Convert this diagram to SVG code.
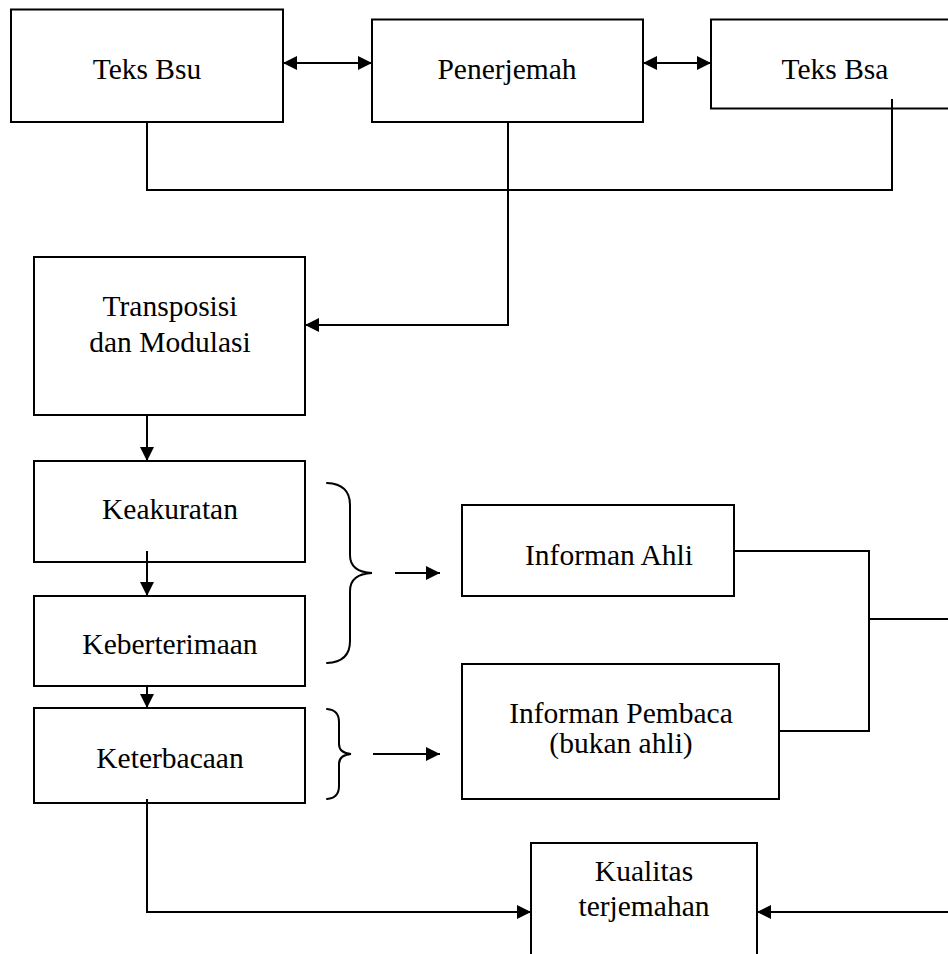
<svg xmlns="http://www.w3.org/2000/svg" width="948" height="954" viewBox="0 0 948 954">
  <defs>
    <marker id="arrow" viewBox="0 0 14 14" refX="14" refY="7" markerWidth="14" markerHeight="14" markerUnits="userSpaceOnUse" orient="auto-start-reverse">
      <path d="M0,0 L14,7 L0,14 Z" fill="#000"/>
    </marker>
    <style>
      .box { fill: #fff; stroke: #000; stroke-width: 2; }
      .edge { fill: none; stroke: #000; stroke-width: 2; }
      .brace { fill: none; stroke: #000; stroke-width: 2; stroke-linecap: round; }
      .lbl { font-family: "Liberation Serif", "Times New Roman", serif; font-size: 29.5px; fill: #000; text-anchor: middle; }
    </style>
  </defs>
  <rect width="948" height="954" fill="#fff"/>

  <!-- top row -->
  <g id="teks-bsu">
    <rect class="box" x="11" y="9.5" width="272" height="112.5"/>
    <text class="lbl" x="147" y="79">Teks Bsu</text>
  </g>
  <g id="penerjemah">
    <rect class="box" x="372" y="19.5" width="271" height="102.5"/>
    <text class="lbl" x="507" y="79">Penerjemah</text>
  </g>
  <g id="teks-bsa">
    <path class="edge" d="M950,19.5 H711 V108.5 H950"/>
    <text class="lbl" x="835" y="79">Teks Bsa</text>
  </g>

  <!-- left column -->
  <g id="transposisi">
    <rect class="box" x="34" y="257" width="271" height="158"/>
    <text class="lbl" x="170" y="316">Transposisi</text>
    <text class="lbl" x="170" y="352">dan Modulasi</text>
  </g>
  <g id="keakuratan">
    <rect class="box" x="34" y="461" width="271" height="101"/>
    <text class="lbl" x="170" y="519">Keakuratan</text>
  </g>
  <g id="keberterimaan">
    <rect class="box" x="34" y="596" width="271" height="90"/>
    <text class="lbl" x="170" y="654">Keberterimaan</text>
  </g>
  <g id="keterbacaan">
    <rect class="box" x="34" y="708" width="271" height="95"/>
    <text class="lbl" x="170" y="768">Keterbacaan</text>
  </g>

  <!-- informants -->
  <g id="informan-ahli">
    <rect class="box" x="462" y="505" width="272" height="91" stroke-width="1.5"/>
    <text class="lbl" x="609" y="565">Informan Ahli</text>
  </g>
  <g id="informan-pembaca">
    <rect class="box" x="462" y="664" width="317" height="135"/>
    <text class="lbl" x="621" y="723">Informan Pembaca</text>
    <text class="lbl" x="621" y="753">(bukan ahli)</text>
  </g>

  <g id="kualitas">
    <path class="box" d="M531,960 V843 H757 V960"/>
    <text class="lbl" x="644" y="881">Kualitas</text>
    <text class="lbl" x="644" y="916">terjemahan</text>
  </g>

  <!-- grouping braces -->
  <g id="braces">
    <path class="brace" d="M327,483 Q350,484 350,505 V555 Q350,572 372,573 Q350,574 350,591 V641 Q350,662 327,663"/>
    <path class="brace" d="M327,709 Q339,710 339,722 V744 Q339,753 351,754 Q339,755 339,764 V786 Q339,798 327,799"/>
  </g>

  <g id="connectors">
    <line class="edge" x1="283" y1="63" x2="372" y2="63" marker-start="url(#arrow)" marker-end="url(#arrow)"/>
    <line class="edge" x1="643" y1="63" x2="711" y2="63" marker-start="url(#arrow)" marker-end="url(#arrow)"/>
    <path class="edge" d="M147,122 V190 H892 V99"/>
    <path class="edge" d="M508,122 V325 H305" marker-end="url(#arrow)"/>
    <line class="edge" x1="147" y1="415" x2="147" y2="461" marker-end="url(#arrow)"/>
    <line class="edge" x1="147" y1="551" x2="147" y2="596" marker-end="url(#arrow)"/>
    <line class="edge" x1="147" y1="686" x2="147" y2="708" marker-end="url(#arrow)"/>
    <line class="edge" x1="395" y1="573" x2="440" y2="573" marker-end="url(#arrow)"/>
    <line class="edge" x1="373" y1="754" x2="440" y2="754" marker-end="url(#arrow)"/>
    <path class="edge" d="M734,551 H869 V731 H779"/>
    <line class="edge" x1="869" y1="619" x2="950" y2="619"/>
    <path class="edge" d="M147,799 V912 H531" marker-end="url(#arrow)"/>
    <line class="edge" x1="950" y1="912" x2="757" y2="912" marker-end="url(#arrow)"/>
  </g>
</svg>
